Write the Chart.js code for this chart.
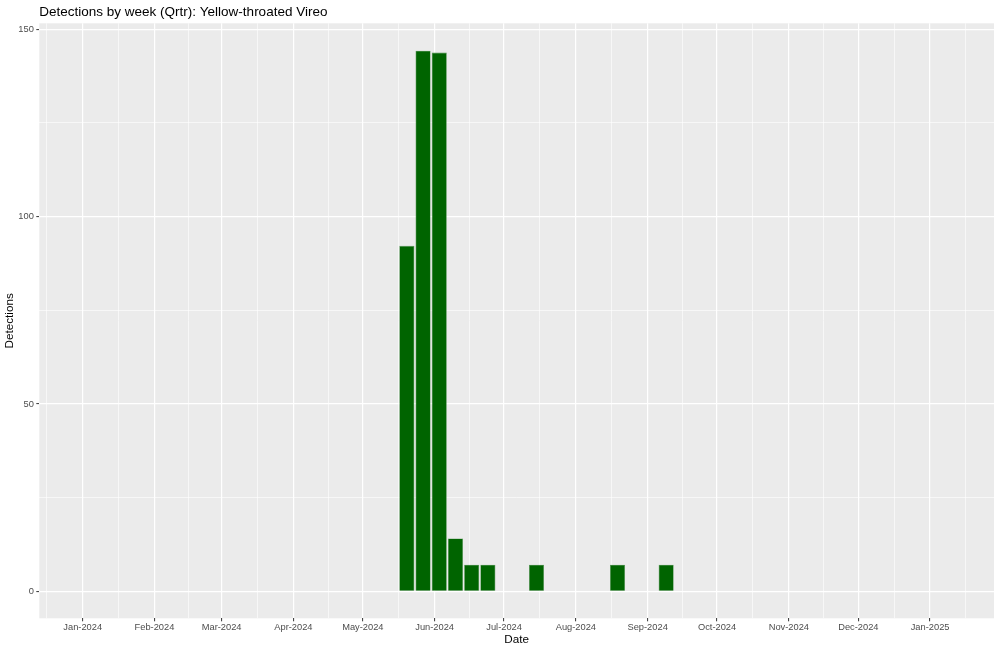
<!DOCTYPE html>
<html>
<head>
<meta charset="utf-8">
<script src="https://cdn.jsdelivr.net/npm/chart.js@4.4.1/dist/chart.umd.min.js"></script>
<style>
  html, body { margin: 0; padding: 0; background: #fff; }
</style>
</head>
<body>
<canvas id="chart" width="1000" height="651"></canvas>
<script>
// weekly bins (week start, Monday) and detections per week
const weekStarts = ['2024-05-20', '2024-05-27', '2024-06-03', '2024-06-10', '2024-06-17',
                    '2024-06-24', '2024-07-15', '2024-08-19', '2024-09-09']
const detections = [92.2, 144.3, 143.8, 14.1, 7.1, 7.1, 7.1, 7.1, 7.1]

// month breaks on the date axis
const monthTicks = ['2024-01-01', '2024-02-01', '2024-03-01', '2024-04-01', '2024-05-01', '2024-06-01',
                    '2024-07-01', '2024-08-01', '2024-09-01', '2024-10-01', '2024-11-01', '2024-12-01',
                    '2025-01-01']
const monthLabels = ['Jan-2024', 'Feb-2024', 'Mar-2024', 'Apr-2024', 'May-2024', 'Jun-2024',
                     'Jul-2024', 'Aug-2024', 'Sep-2024', 'Oct-2024', 'Nov-2024', 'Dec-2024',
                     'Jan-2025']
const yTicks = [0, 50, 100, 150]
const yMinorTicks = [25, 75, 125]

const FONT = "'Liberation Sans', Arial, Helvetica, sans-serif"

// days since 2024-01-01
function toDay(s) {
  return (Date.parse(s + 'T00:00:00Z') - Date.UTC(2024, 0, 1)) / 86400000
}

let majorX = monthTicks.map(toDay)
// minor breaks sit halfway between months, one extra on each side
let edges = [toDay('2023-12-01')].concat(majorX, [toDay('2025-02-01')])
let minorX = []
for (let i = 0; i < edges.length - 1; i++) minorX.push((edges[i] + edges[i + 1]) / 2)

let panelBg = {
  id: 'panelBg',
  beforeDraw(chart) {
    let {ctx, chartArea: a} = chart
    ctx.save()
    ctx.fillStyle = '#ebebeb'
    ctx.fillRect(a.left, a.top, a.right - a.left, a.bottom - a.top)
    ctx.restore()
  }
}

let ctx = document.getElementById('chart').getContext('2d')
let chart = new Chart(ctx, {
  type: 'bar',
  data: {
    datasets: [{
      label: 'Detections',
      data: weekStarts.map((w, i) => ({x: toDay(w), y: detections[i]})),
      backgroundColor: '#006400',
      borderColor: '#4a8f4a',
      borderWidth: 0.6,
      categoryPercentage: 1,
      barPercentage: 0.93
    }]
  },
  options: {
    responsive: false,
    animation: false,
    layout: {padding: {left: 0, right: 6, top: 0, bottom: 0}},
    plugins: {
      legend: {display: false},
      tooltip: {enabled: false},
      title: {
        display: true,
        text: 'Detections by week (Qrtr): Yellow-throated Vireo',
        align: 'start',
        fullSize: false,
        color: '#000',
        font: {family: FONT, size: 13.5, weight: 'normal'},
        padding: {top: 4.3, bottom: 2.8}
      }
    },
    scales: {
      x: {
        type: 'linear',
        min: -18.75,
        max: 393.6,
        offset: false,
        border: {display: false},
        afterBuildTicks(scale) {
          let t = majorX.map(v => ({value: v, major: true})).concat(minorX.map(v => ({value: v, major: false})))
          t.sort((a, b) => a.value - b.value)
          scale.ticks = t.filter(k => k.value >= scale.min && k.value <= scale.max)
        },
        afterFit(scale) { scale.height = 32.7 },
        grid: {
          offset: false,
          color: '#ffffff',
          lineWidth: c => (c.tick && c.tick.major) ? 1.2 : 0.6,
          tickColor: c => (c.tick && c.tick.major) ? '#333333' : 'rgba(0,0,0,0)',
          tickLength: 3,
          tickWidth: 1
        },
        ticks: {
          autoSkip: false,
          maxRotation: 0,
          padding: 1,
          color: '#4d4d4d',
          font: {family: FONT, size: 9.3},
          callback: v => {
            let i = majorX.indexOf(v)
            return i >= 0 ? monthLabels[i] : ''
          }
        },
        title: {
          display: true,
          text: 'Date',
          color: '#000',
          font: {family: FONT, size: 11.7},
          padding: {top: 0, bottom: 4}
        }
      },
      y: {
        type: 'linear',
        min: -7.2,
        max: 151.6,
        border: {display: false},
        afterBuildTicks(scale) {
          let t = yTicks.map(v => ({value: v, major: true})).concat(yMinorTicks.map(v => ({value: v, major: false})))
          t.sort((a, b) => a.value - b.value)
          scale.ticks = t
        },
        afterFit(scale) { scale.width = 39.3 },
        grid: {
          color: '#ffffff',
          lineWidth: c => (c.tick && c.tick.major) ? 1.2 : 0.6,
          tickColor: c => (c.tick && c.tick.major) ? '#333333' : 'rgba(0,0,0,0)',
          tickLength: 3,
          tickWidth: 1
        },
        ticks: {
          autoSkip: false,
          padding: 2.5,
          color: '#4d4d4d',
          font: {family: FONT, size: 9.3},
          callback: v => yTicks.includes(v) ? String(v) : ''
        },
        title: {
          display: true,
          text: 'Detections',
          color: '#000',
          font: {family: FONT, size: 11.7},
          padding: {top: 3, bottom: 0}
        }
      }
    }
  },
  plugins: [panelBg]
})
</script>
</body>
</html>
